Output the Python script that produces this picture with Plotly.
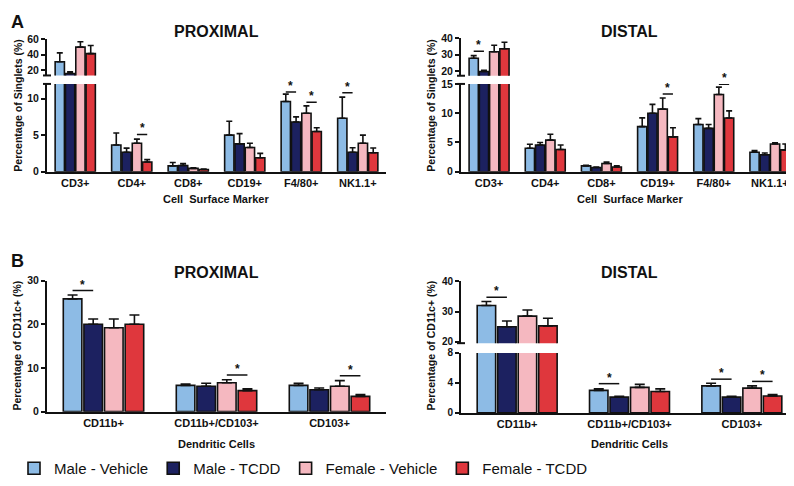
import plotly.graph_objects as go

W, H = 794, 486

# ---------------- data ----------------
top_categories = ["CD3+", "CD4+", "CD8+", "CD19+", "F4/80+", "NK1.1+"]
dc_categories = ["CD11b+", "CD11b+/CD103+", "CD103+"]
series_names = ["Male - Vehicle", "Male - TCDD", "Female - Vehicle", "Female - TCDD"]
series_colors = ["#8DBBE5", "#1C2160", "#F5B8C0", "#DF373D"]

# Panel A - PROXIMAL (% of singlets)
prox_male_veh = [31.0, 3.65, 0.8, 5.0, 9.6, 7.3]
prox_male_veh_err = [11.5, 1.65, 0.45, 1.9, 1.0, 2.9]
prox_male_tcdd = [15.8, 2.67, 0.85, 3.8, 6.8, 2.67]
prox_male_tcdd_err = [2.1, 0.55, 0.25, 1.4, 0.7, 0.6]
prox_fem_veh = [50.0, 3.9, 0.45, 3.3, 8.0, 3.9]
prox_fem_veh_err = [7.0, 0.55, 0.1, 0.6, 1.0, 1.1]
prox_fem_tcdd = [41.6, 1.33, 0.3, 1.9, 5.5, 2.6]
prox_fem_tcdd_err = [10.4, 0.32, 0.07, 0.6, 0.5, 0.65]

# Panel A - DISTAL (% of singlets)
dist_male_veh = [27.8, 4.0, 1.0, 7.7, 8.07, 3.33]
dist_male_veh_err = [1.6, 0.7, 0.1, 1.5, 1.0, 0.27]
dist_male_tcdd = [19.6, 4.57, 0.73, 10.0, 7.4, 2.9]
dist_male_tcdd_err = [0.8, 0.43, 0.07, 1.5, 0.67, 0.3]
dist_fem_veh = [31.8, 5.4, 1.4, 10.7, 13.2, 4.73]
dist_fem_veh_err = [4.0, 1.0, 0.25, 1.9, 1.25, 0.22]
dist_fem_tcdd = [33.6, 3.8, 0.8, 5.95, 9.17, 3.73]
dist_fem_tcdd_err = [4.0, 0.77, 0.2, 1.55, 1.23, 1.0]

# Panel B - PROXIMAL (% of CD11c+)
dcp_male_veh = [25.8, 6.0, 6.0]
dcp_male_veh_err = [0.9, 0.3, 0.5]
dcp_male_tcdd = [20.0, 5.8, 5.0]
dcp_male_tcdd_err = [1.2, 0.7, 0.4]
dcp_fem_veh = [19.2, 6.6, 5.8]
dcp_fem_veh_err = [2.0, 0.7, 1.3]
dcp_fem_tcdd = [20.0, 4.8, 3.5]
dcp_fem_tcdd_err = [2.1, 0.4, 0.4]

# Panel B - DISTAL (% of CD11c+)
dcd_male_veh = [32.0, 3.0, 3.6]
dcd_male_veh_err = [1.3, 0.2, 0.35]
dcd_male_tcdd = [25.0, 2.1, 2.1]
dcd_male_tcdd_err = [1.9, 0.1, 0.1]
dcd_fem_veh = [28.5, 3.4, 3.3]
dcd_fem_veh_err = [2.0, 0.4, 0.3]
dcd_fem_tcdd = [25.3, 2.85, 2.25]
dcd_fem_tcdd_err = [2.5, 0.35, 0.2]

# significance: (category index, series a, series b, y level)
sig_prox = [(1, 2, 3, 5.1), (4, 0, 1, 10.9), (4, 2, 3, 9.5), (5, 0, 1, 10.8)]
sig_dist_upper = [(0, 0, 1, 32.0)]
sig_dist = [(3, 2, 3, 13.3), (4, 2, 3, 14.95)]
sig_dcp = [(0, 0, 1, 27.7), (1, 2, 3, 8.4), (2, 2, 3, 8.2)]
sig_dcd_upper = [(0, 0, 1, 34.7)]
sig_dcd = [(1, 0, 1, 3.9), (2, 0, 1, 4.5), (2, 2, 3, 4.2)]

# ---------------- helpers ----------------
FONT = "Arial, Liberation Sans, Helvetica, sans-serif"
BARGAP = 0.27
BARGROUPGAP = 0.1


def X(px):
    return px / W


def Y(py):
    return 1 - py / H


fig = go.Figure()


def add_bars(cats, vals, errs, xa, ya, lo, hi, legend):
    for k in range(4):
        yv, ev = [], []
        for v, e in zip(vals[k], errs[k]):
            if v <= lo:
                yv.append(None)
                ev.append(0)
            else:
                yv.append(v)
                ev.append(e if v + e <= hi else 0)
        fig.add_trace(go.Bar(
            x=cats, y=yv, xaxis=xa, yaxis=ya, name=series_names[k],
            marker=dict(color=series_colors[k], line=dict(color="#111111", width=1.6)),
            error_y=dict(type="data", symmetric=False, array=ev,
                         arrayminus=[0] * len(ev), color="#111111",
                         thickness=1.6, width=3 if len(cats) > 3 else 5),
            showlegend=legend, legendgroup=series_names[k],
        ))


def bar_center(idx, k):
    grp = 1 - BARGAP
    slot = grp / 4
    return idx - grp / 2 + slot * (k + 0.5)


def add_sig(sigs, xref, yref):
    for idx, a, b, yl in sigs:
        x0, x1 = bar_center(idx, a), bar_center(idx, b)
        fig.add_shape(type="line", xref=xref, yref=yref, x0=x0, x1=x1, y0=yl, y1=yl,
                      line=dict(color="#111111", width=1.5))
        fig.add_annotation(x=(x0 + x1) / 2, y=yl, xref=xref, yref=yref, text="<b>*</b>",
                           showarrow=False, yanchor="bottom", yshift=-3,
                           font=dict(size=12, color="#111111", family=FONT))


prox = [prox_male_veh, prox_male_tcdd, prox_fem_veh, prox_fem_tcdd]
prox_e = [prox_male_veh_err, prox_male_tcdd_err, prox_fem_veh_err, prox_fem_tcdd_err]
dist = [dist_male_veh, dist_male_tcdd, dist_fem_veh, dist_fem_tcdd]
dist_e = [dist_male_veh_err, dist_male_tcdd_err, dist_fem_veh_err, dist_fem_tcdd_err]
dcp = [dcp_male_veh, dcp_male_tcdd, dcp_fem_veh, dcp_fem_tcdd]
dcp_e = [dcp_male_veh_err, dcp_male_tcdd_err, dcp_fem_veh_err, dcp_fem_tcdd_err]
dcd = [dcd_male_veh, dcd_male_tcdd, dcd_fem_veh, dcd_fem_tcdd]
dcd_e = [dcd_male_veh_err, dcd_male_tcdd_err, dcd_fem_veh_err, dcd_fem_tcdd_err]

# axis ranges
TL_LO, TL_UP = [0, 12], [13.3, 60]
TR_LO, TR_UP = [0, 15], [17, 40]
BL_R = [0, 30]
BR_LO, BR_UP = [0, 8], [19.6, 40]

add_bars(top_categories, prox, prox_e, "x", "y", -1, TL_LO[1], True)
add_bars(top_categories, prox, prox_e, "x", "y2", TL_UP[0], 1e9, False)
add_bars(top_categories, dist, dist_e, "x2", "y3", -1, TR_LO[1], False)
add_bars(top_categories, dist, dist_e, "x2", "y4", TR_UP[0], 1e9, False)
add_bars(dc_categories, dcp, dcp_e, "x3", "y5", -1, 1e9, False)
add_bars(dc_categories, dcd, dcd_e, "x4", "y6", -1, BR_LO[1], False)
add_bars(dc_categories, dcd, dcd_e, "x4", "y7", BR_UP[0], 1e9, False)

add_sig(sig_prox, "x", "y")
add_sig(sig_dist_upper, "x2", "y4")
add_sig(sig_dist, "x2", "y3")
add_sig(sig_dcp, "x3", "y5")
add_sig(sig_dcd_upper, "x4", "y7")
add_sig(sig_dcd, "x4", "y6")

tickfont = dict(family=FONT, size=10.5, color="#111111", weight="bold")
catfont = dict(family=FONT, size=11, color="#111111", weight="bold")


def xax(d, anchor, n):
    return dict(domain=[X(d[0]), X(d[1])], anchor=anchor, range=[-0.5, n - 0.5],
                showline=True, linecolor="#111111", linewidth=2, ticks="",
                showgrid=False, zeroline=False, tickfont=catfont, fixedrange=True)


def yax(d, anchor, rng, tv, fs=10.5):
    tf = dict(tickfont)
    tf["size"] = fs
    return dict(domain=[Y(d[0]), Y(d[1])], anchor=anchor, range=rng, tickvals=tv,
                showline=True, linecolor="#111111", linewidth=2, ticks="outside",
                ticklen=4, tickwidth=2, tickcolor="#111111", showgrid=False,
                zeroline=False, tickfont=tf, fixedrange=True)


# break marks on broken y axes (short horizontal caps)
def brk(xpx, ys):
    for py in ys:
        fig.add_shape(type="line", xref="paper", yref="paper",
                      x0=X(xpx - 4), x1=X(xpx + 4), y0=Y(py), y1=Y(py),
                      line=dict(color="#111111", width=2))


brk(39, [63, 71.7])
brk(453, [63.3, 71.7])
brk(453, [337.5])

annots = [
    ("<b>A</b>", 9, 8, 18, 0), ("<b>B</b>", 9, 253, 18, 0),
    ("<b>PROXIMAL</b>", 208, 18, 16, 0), ("<b>DISTAL</b>", 621, 18, 16, 0),
    ("<b>PROXIMAL</b>", 208, 265, 16, 0), ("<b>DISTAL</b>", 621, 265, 16, 0),
    ("<b>Cell  Surface Marker</b>", 208, 190, 11, 0),
    ("<b>Cell  Surface Marker</b>", 622, 190, 11, 0),
    ("<b>Dendritic Cells</b>", 208, 441, 11, 0),
    ("<b>Dendritic Cells</b>", 621, 441, 11, 0),
    ("<b>Percentage of Singlets (%)</b>", 10, 94, 10.5, -90),
    ("<b>Percentage of Singlets (%)</b>", 423, 94, 10.5, -90),
    ("<b>Percentage of CD11c+ (%)</b>", 9, 340, 10.5, -90),
    ("<b>Percentage of CD11c+ (%)</b>", 423, 340, 10.5, -90),
]
for txt, px, py, sz, ang in annots:
    fig.add_annotation(text=txt, x=X(px), y=Y(py), xref="paper", yref="paper",
                       showarrow=False, textangle=ang, xanchor="center", yanchor="middle",
                       font=dict(family=FONT, size=sz, color="#111111"))

fig.update_layout(
    width=W, height=H, margin=dict(l=0, r=0, t=0, b=0),
    paper_bgcolor="white", plot_bgcolor="white",
    barmode="group", bargap=BARGAP, bargroupgap=BARGROUPGAP,
    font=dict(family=FONT, color="#111111"),
    xaxis=xax((39, 378), "y", 6),
    yaxis=yax((161.7, 71.7), "x", TL_LO, [0, 5, 10]),
    yaxis2=yax((63, 26), "x", TL_UP, [20, 40, 60]),
    xaxis2=xax((453, 790), "y3", 6),
    yaxis3=yax((161.7, 71.7), "x2", TR_LO, [0, 5, 10, 15]),
    yaxis4=yax((63.3, 25), "x2", TR_UP, [20, 30, 40]),
    xaxis3=xax((39, 378), "y5", 3),
    yaxis5=yax((407.7, 273.3), "x3", BL_R, [0, 10, 20, 30]),
    xaxis4=xax((453, 790), "y6", 3),
    yaxis6=yax((409, 347.5), "x4", BR_LO, [0, 4, 8], 10),
    yaxis7=yax((337.5, 274), "x4", BR_UP, [20, 30, 40], 10),
    legend=dict(orientation="h", x=X(6), y=Y(466), xanchor="left", yanchor="middle",
                font=dict(family=FONT, size=15, color="#111111"),
                bgcolor="rgba(0,0,0,0)", traceorder="normal"),
    showlegend=True,
)

fig.write_html("out.html")
